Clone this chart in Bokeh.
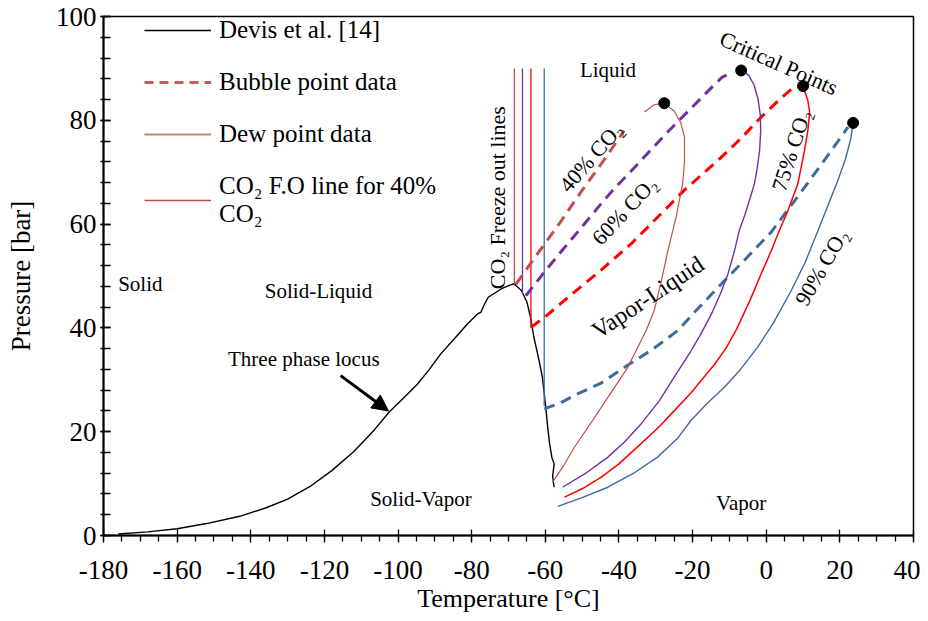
import math
from bokeh.plotting import figure
from bokeh.models import (Range1d, SingleIntervalTicker, Legend, LegendItem,
                          Arrow, NormalHead, CustomJSTickFormatter)
from bokeh.core.properties import value
from bokeh.embed import file_html
from bokeh.resources import INLINE

FONT = "Liberation Serif"
NAN = float("nan")

# ---------------- data ----------------
devis_T = [-176, -168, -160, -152, -143, -136, -130, -124, -118, -112, -106.5, -102.4,
           -98.5, -94.7, -91.5, -88.4, -84.7, -81.1, -78.4, -77.5, -76.5, -75.5, -72,
           -69.5, -68.5, -66.5, -65, -64, -63.1, -61.7, -60.8, -60.3, -59.8, -59.3,
           -58.8, -58.2, -57.6, -58.0, -57.8, -57.6]
devis_P = [0.3, 0.7, 1.3, 2.3, 3.7, 5.3, 7.0, 9.4, 12.5, 16.2, 20.3, 23.8,
           26.5, 29.2, 32.0, 35.0, 37.9, 40.8, 42.7, 43.0, 44.6, 45.9, 47.5,
           48.3, 48.5, 47.2, 45.0, 42.0, 38.2, 33.7, 30.5, 27.4, 24.1, 20.5,
           17.5, 15.0, 13.8, 11.5, 10.2, 9.3]

fo_T = [-68.4, -66.2, -63.9, -60.3]          # CO2 freeze-out lines (40, 60, 75, 90 %)
fo_Ptop = [90, 90, 90, 90]
fo_Pbot = [48.4, 46.5, 40.0, 25.0]

bub40_T = [-68.0, -62, -56, -50.3, -44, -38.6]
bub40_P = [48.4, 54.4, 60.3, 66.2, 72.4, 78.0]
dew40_T = [-58.0, -55, -52.1, -47.5, -43, -37.6, -32.6, -30.4, -28.5, -26.7, -24.5,
           -22.7, -22.2, -22.2, -23.2, -25, -27.7, -30.4, -33.1]
dew40_P = [10.3, 13.5, 17.0, 21.8, 26.6, 32.4, 39.5, 43.4, 49.0, 54.9, 61.3,
           67.8, 72.0, 76.7, 79.5, 81.8, 83.3, 83.0, 81.6]

bub60_T = [-65.3, -60, -55, -50, -45, -41.3, -35, -30, -26.7, -20, -15, -12, -9]
bub60_P = [46.2, 51.0, 55.3, 59.5, 63.8, 66.8, 71.5, 75.3, 77.8, 82.6, 86.2, 88.3, 89.3]
dew60_T = [-55.3, -49, -43, -38.5, -34, -29, -25, -20.5, -18, -15, -12.5, -10.4,
           -8.6, -7.3, -5.8, -4.6, -3.2, -2.4, -1.8, -1.5, -1.6, -2.2, -3.3, -4.8, -6.8]
dew60_P = [9.3, 12.0, 15.1, 18.0, 21.5, 26.0, 30.5, 35.5, 38.5, 42.5, 46.5, 50.4,
           54.9, 58.8, 61.8, 64.5, 67.8, 71.0, 74.2, 78.0, 81.0, 84.0, 86.8, 88.7, 89.6]

bub75_T = [-63.9, -60.3, -52.1, -44.9, -36.7, -31.2, -22.3, -13.1, -7, -1.4, 3, 7.6]
bub75_P = [40.1, 42.0, 46.9, 51.1, 56.2, 60.1, 66.5, 72.3, 76.4, 80.6, 83.6, 86.5]
dew75_T = [-54.8, -50, -44.9, -40, -34, -29, -24.5, -20.4, -17.5, -14, -11, -8, -4.3,
           -1.4, 1.4, 3.6, 5.9, 8.6, 10.4, 11.3, 11.8, 11.3, 10]
dew75_P = [7.4, 9.0, 11.2, 13.8, 17.7, 21.0, 24.4, 27.5, 30.0, 33.0, 36.0, 39.8, 45.5,
           50.4, 54.9, 58.8, 62.6, 67.8, 74.2, 78.0, 81.6, 83.8, 86.6]

bub90_T = [-60.3, -56, -52.1, -45, -38.5, -31, -24, -19.5, -13.1, -6, 1.4, 9.5, 16, 22.2]
bub90_P = [24.4, 25.5, 27.0, 29.3, 32.4, 35.8, 39.5, 43.0, 47.8, 53.0, 58.5, 66.2, 72.5, 78.7]
dew90_T = [-56.6, -50, -43, -36, -29.5, -24, -20.4, -16, -11.3, -7, -2.3, 2, 6.8, 10.5,
           14.1, 17, 19.5, 21.5, 23, 23.6]
dew90_P = [5.6, 7.3, 9.3, 12.0, 15.1, 18.8, 22.2, 25.5, 28.6, 32.0, 36.3, 41.0, 47.2, 52.5,
           58.8, 64.0, 68.5, 72.5, 76.5, 79.5]

crit_T = [-27.7, -6.8, 10.0, 23.6]
crit_P = [83.3, 89.6, 86.6, 79.5]

legend_labels = ["Devis et al. [14]", "Bubble point data", "Dew point data",
                 "CO₂ F.O line for 40%\nCO₂"]

C40, C60, C75, C90 = "#C0504D", "#7030A0", "#FF0000", "#3F6A9E"

# ---------------- figure ----------------
p = figure(width=920, height=619, output_backend="svg", toolbar_location=None,
           x_range=Range1d(-180, 40), y_range=Range1d(0, 100),
           min_border_left=103, min_border_right=7, min_border_top=16, min_border_bottom=84)
p.background_fill_color = "white"
p.border_fill_color = "white"
p.outline_line_color = "black"
p.outline_line_width = 1.5
p.xgrid.visible = False
p.ygrid.visible = False

p.xaxis.ticker = SingleIntervalTicker(interval=20, num_minor_ticks=4)
p.yaxis.ticker = SingleIntervalTicker(interval=20, num_minor_ticks=5)
fmt = CustomJSTickFormatter(code="return String(tick);")
for ax in (p.xaxis, p.yaxis):
    ax.formatter = fmt
    ax.axis_line_color = "black"
    ax.axis_line_width = 2
    ax.major_tick_line_color = "black"
    ax.minor_tick_line_color = "black"
    ax.major_tick_line_width = 1.3
    ax.minor_tick_line_width = 1.3
    ax.major_label_text_font = FONT
    ax.major_label_text_font_size = "27px"
    ax.major_label_text_color = "black"
    ax.axis_label_text_font = FONT
    ax.axis_label_text_font_style = "normal"
    ax.axis_label_text_color = "black"
p.xaxis.axis_label_text_font_size = "26px"
p.yaxis.axis_label_text_font_size = "27px"
p.xaxis.major_tick_in = 6
p.xaxis.major_tick_out = 7
p.xaxis.minor_tick_in = 0
p.xaxis.minor_tick_out = 6
p.xaxis.major_label_standoff = 18
p.xaxis.axis_label_standoff = 2
p.yaxis.major_tick_in = 7
p.yaxis.major_tick_out = 3
p.yaxis.minor_tick_in = 7
p.yaxis.minor_tick_out = 3
p.yaxis.major_label_standoff = 4
p.yaxis.axis_label_standoff = 17
p.xaxis.axis_label = "Temperature [°C]"
p.yaxis.axis_label = "Pressure [bar]"

# ---------------- lines ----------------
p.line(devis_T, devis_P, line_color="black", line_width=1.4)

for t, pt, pb, c in zip(fo_T, fo_Ptop, fo_Pbot, [C40, C60, C75, C90]):
    p.line([t, t], [pb, pt], line_color=c, line_width=1.3)

DASH = "11 7"
p.line(bub40_T, bub40_P, line_color=C40, line_width=3, line_dash=DASH)
p.line(bub60_T, bub60_P, line_color=C60, line_width=3, line_dash=DASH)
p.line(bub75_T, bub75_P, line_color=C75, line_width=3, line_dash=DASH)
p.line(bub90_T, bub90_P, line_color=C90, line_width=3, line_dash=DASH)

p.line(dew40_T, dew40_P, line_color=C40, line_width=1.2)
p.line(dew60_T, dew60_P, line_color=C60, line_width=1.4)
p.line(dew75_T, dew75_P, line_color=C75, line_width=1.5)
p.line(dew90_T, dew90_P, line_color=C90, line_width=1.4)

p.scatter(crit_T, crit_P, size=11, fill_color="black", line_color="black")

# legend-only renderers (a single NaN point: nothing is drawn in the plot)
lg_devis = p.line([NAN], [NAN], line_color="black", line_width=1.4)
lg_bub = p.line([NAN], [NAN], line_color="#C85A57", line_width=3, line_dash="9 6")
lg_dew = p.line([NAN], [NAN], line_color="#D67C79", line_width=2)
lg_fo = p.line([NAN], [NAN], line_color="#CC4444", line_width=1.3)

# ---------------- annotations ----------------
labels = [
    ("Solid", -170, 48.4, 0, "21px"),
    ("Solid-Liquid", -121.6, 47.2, 0, "21px"),
    ("Three phase locus", -125.6, 34.1, 0, "21px"),
    ("Solid-Vapor", -93.8, 7.1, 0, "21px"),
    ("Vapor", -6.8, 6.2, 0, "21px"),
    ("Liquid", -43, 89.6, 0, "21px"),
    ("Vapor-Liquid", -32.2, 45.9, 33.5, "24px"),
    ("Critical Points", 3.4, 91.0, -24, "22px"),
    ("40% CO₂", -47.6, 72.9, 49, "22px"),
    ("60% CO₂", -38.5, 62.6, 47, "22px"),
    ("75% CO₂", 6.8, 74.2, 72, "22px"),
    ("90% CO₂", 15.0, 51.7, 60, "22px"),
    ("CO₂ Freeze out lines", -72.9, 65.1, 90, "22px"),
]
for txt, x, y, ang, fs in labels:
    p.text(x=[x], y=[y], text=[txt], angle=math.radians(ang),
           text_font=value(FONT), text_font_size=fs, text_color="black",
           text_align="center", text_baseline="middle")

p.add_layout(Arrow(end=NormalHead(size=16, fill_color="black", line_color="black"),
                   x_start=-115.6, y_start=30.8, x_end=-102.6, y_end=24.0,
                   line_width=3, line_color="black"))

# ---------------- legend ----------------
legend = Legend(items=[
    LegendItem(label=legend_labels[0], renderers=[lg_devis]),
    LegendItem(label=legend_labels[1], renderers=[lg_bub]),
    LegendItem(label=legend_labels[2], renderers=[lg_dew]),
    LegendItem(label=legend_labels[3], renderers=[lg_fo]),
], location=(41, 519 - 215 + 3), orientation="vertical")
legend.label_text_font = FONT
legend.label_text_font_size = "25px"
legend.label_text_color = "black"
legend.label_text_line_height = 1.15
legend.glyph_width = 67
legend.glyph_height = 28
legend.label_height = 28
legend.label_standoff = 8
legend.spacing = 24
legend.padding = 0
legend.margin = 0
legend.border_line_color = None
legend.background_fill_alpha = 0
p.add_layout(legend)

open("out.html", "w").write(file_html(p, INLINE))
